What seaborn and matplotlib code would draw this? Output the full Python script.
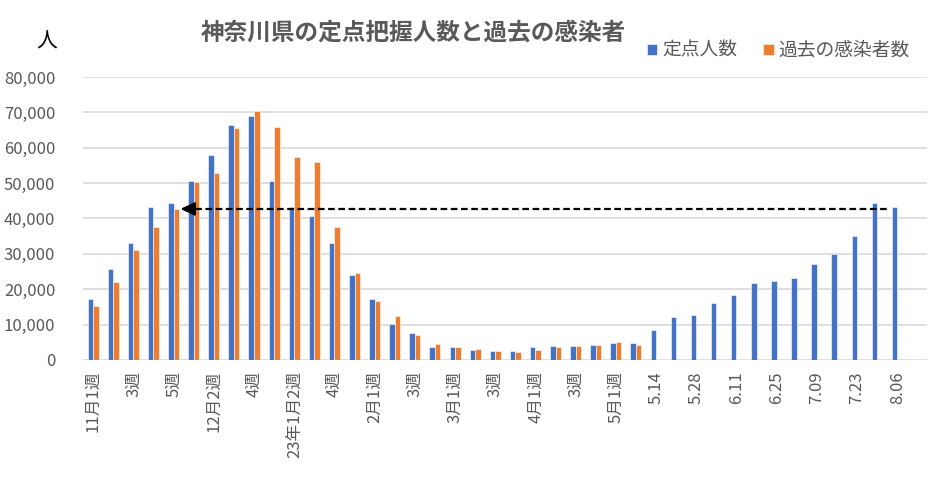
import numpy as np
import pandas as pd
import matplotlib
matplotlib.use("Agg")
import matplotlib.pyplot as plt
import seaborn as sns

# 週ごとのカテゴリ (42 slots, 最後は空)
week_labels = ["11月1週", "", "3週", "", "5週", "", "12月2週", "", "4週", "",
               "23年1月2週", "", "4週", "", "2月1週", "", "3週", "", "3月1週", "",
               "3週", "", "4月1週", "", "3週", "", "5月1週", "", "5.14", "",
               "5.28", "", "6.11", "", "6.25", "", "7.09", "", "7.23", "",
               "8.06", ""]

# 定点人数
teiten = [17200, 25700, 33000, 43300, 44400, 50600, 58000, 66500, 69000, 50600,
          43300, 40800, 33000, 24000, 17200, 10100, 7600, 3600, 3600, 2700,
          2500, 2500, 3600, 3900, 3900, 4200, 4700, 4700, 8400, 12100,
          12700, 16100, 18300, 21700, 22300, 23100, 27100, 29900, 35000, 44400,
          43200, np.nan]

# 過去の感染者数
kako = [15200, 22000, 31100, 37700, 42700, 50300, 52900, 65600, 70400, 65900,
        57500, 56000, 37700, 24600, 16600, 12400, 7000, 4400, 3600, 3000,
        2500, 2200, 2700, 3600, 3900, 4200, 5000, 4200] + [np.nan] * 14

series = ["定点人数", "過去の感染者数"]
colors = ["#4472C4", "#ED7D31"]

weeks = list(range(len(week_labels)))
df = pd.DataFrame({
    "week": weeks * 2,
    "value": teiten + kako,
    "series": [series[0]] * len(weeks) + [series[1]] * len(weeks),
})

sns.set_style("white")
plt.rcParams["font.family"] = ["Noto Sans CJK JP", "DejaVu Sans"]

fig = plt.figure(figsize=(9.34, 4.8), dpi=100)
ax = fig.add_axes([0.089, 0.25, 0.904, 0.5896])

sns.barplot(data=df, x="week", y="value", hue="series", order=weeks,
            palette=colors, width=0.55, dodge=True, ax=ax, legend=True,
            saturation=1, edgecolor="white", linewidth=0.4)

ax.set_xlim(-0.5, len(weeks) - 0.5)
ax.set_ylim(0, 80000)
ax.set_yticks(np.arange(0, 80001, 10000))
ax.yaxis.set_major_formatter(matplotlib.ticker.FuncFormatter(lambda v, p: f"{int(v):,}"))
ax.grid(axis="y", color="#d9d9d9", linewidth=1.2)
ax.set_axisbelow(True)
for s in ax.spines.values():
    s.set_visible(False)
ax.set_xlabel("")
ax.set_ylabel("")
ax.set_xticks(weeks)
ax.set_xticklabels(week_labels, rotation=90, va="top", ha="center")
ax.tick_params(axis="x", length=0, pad=8, labelsize=12, labelcolor="#595959")
ax.tick_params(axis="y", length=0, pad=20, labelsize=12, labelcolor="#595959")

# 矢印: 最新の定点人数 → 過去の同水準の週
ref_week = 4
ref_val = kako[ref_week]
end_week = 40
ax.plot([ref_week + 0.55, end_week - 0.37], [ref_val, ref_val],
        color="black", linestyle=(0, (3, 1.6)), linewidth=1.6, zorder=5)
ax.annotate("", xy=(ref_week + 0.34, ref_val), xytext=(ref_week + 0.9, ref_val),
            arrowprops=dict(arrowstyle="-|>,head_length=0.85,head_width=0.4",
                            color="black", linewidth=1.6, shrinkA=0, shrinkB=0),
            zorder=6)

leg = ax.legend(loc="center right", bbox_to_anchor=(0.992, 0.895),
                bbox_transform=fig.transFigure, ncol=2, frameon=False,
                fontsize=13.5, handlelength=0.55, handleheight=0.55,
                handletextpad=0.25, columnspacing=1.4)
for t in leg.get_texts():
    t.set_color("#595959")

fig.text(0.443, 0.933, "神奈川県の定点把握人数と過去の感染者", ha="center", va="center",
         fontsize=17, fontweight="bold", color="#595959")
fig.text(0.05, 0.913, "人", ha="center", va="center", fontsize=15, color="black")

fig.savefig("out.png", dpi=100)
